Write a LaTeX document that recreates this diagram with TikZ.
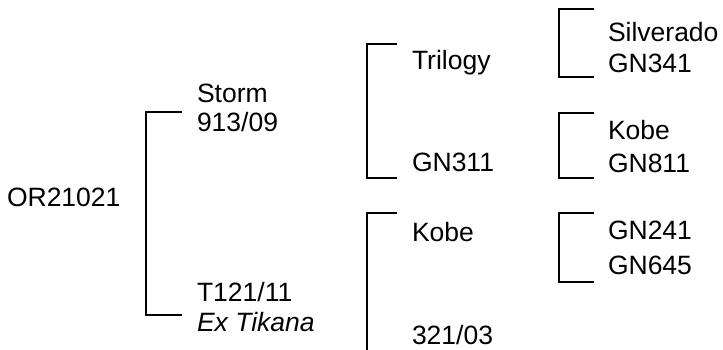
\documentclass[tikz,border=0pt]{standalone}
\usepackage{fontspec}
\setmainfont{Liberation Sans}
\usetikzlibrary{positioning}
\begin{document}
\begin{tikzpicture}[x=1pt,y=-1pt,line width=2pt, every node/.style={anchor=west,inner sep=0pt,font=\fontsize{26.5}{31}\selectfont}]
\useasboundingbox (0,0) rectangle (723,349);
\node (or) at (6,197) {OR21021};
\node (storm) at (196,93) {Storm};
\node (s913) at (196,122) {913/09};
\node (t121) at (196,292) {T121/11};
\node (ex) at (196,322) {\itshape Ex Tikana};
\node (trilogy) at (411,63) {Trilogy};
\node (gn311) at (411,162) {GN311};
\node (kobe) at (411,232) {Kobe};
\node (k321) at (411,335) {321/03};
\node (silverado) at (607,32) {Silverado};
\node (gn341) at (607,63) {GN341};
\node (kobeb) at (607,130) {Kobe};
\node (gn811) at (607,163) {GN811};
\node (gn241) at (607,230) {GN241};
\node (gn645) at (607,265) {GN645};

\coordinate (b1t) at (182,112); \coordinate (b1b) at (182,315);
\coordinate (b2t) at (397,44); \coordinate (b2b) at (397,178);
\coordinate (b3t) at (397,213); \coordinate (b3b) at (367,352);
\coordinate (b4t) at (594,9); \coordinate (b4b) at (594,77);
\coordinate (b5t) at (594,113); \coordinate (b5b) at (594,178);
\coordinate (b6t) at (594,213); \coordinate (b6b) at (594,282);

\draw (b1t) -| (146,0 |- b1b) -- (b1b);
\draw (b2t) -| (367,0 |- b2b) -- (b2b);
\draw (b3t) -| (b3b);
\draw (b4t) -| (559,0 |- b4b) -- (b4b);
\draw (b5t) -| (559,0 |- b5b) -- (b5b);
\draw (b6t) -| (559,0 |- b6b) -- (b6b);
\end{tikzpicture}
\end{document}
